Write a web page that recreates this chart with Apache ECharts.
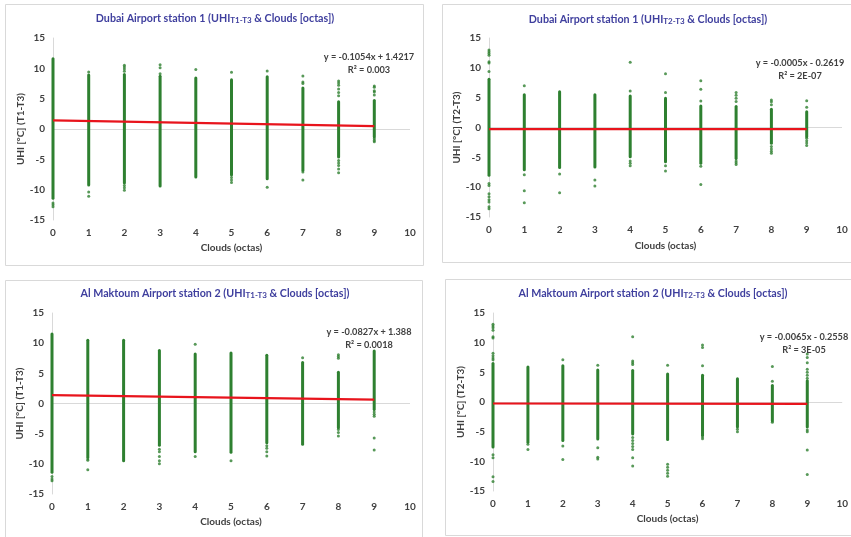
<!DOCTYPE html>
<html><head><meta charset="utf-8">
<script src="https://cdn.jsdelivr.net/npm/echarts@6/dist/echarts.min.js"></script>
<style>html,body{margin:0;padding:0;background:#fff}#c{width:851px;height:537px}</style>
</head><body><div id="c"></div>
<script>
// ---------- DATA ----------
const clouds = [0,1,2,3,4,5,6,7,8,9];
const xTicks = [0,1,2,3,4,5,6,7,8,9,10];
const yTicks = [-15,-10,-5,0,5,10,15];

const titles = [
  ['Dubai Airport station 1 (UHI','T1-T3',' & Clouds [octas])'],
  ['Dubai Airport station 1 (UHI','T2-T3',' & Clouds [octas])'],
  ['Al Maktoum Airport station 2 (UHI','T1-T3',' & Clouds [octas])'],
  ['Al Maktoum Airport station 2 (UHI','T2-T3',' & Clouds [octas])']
];
const yNames = ['UHI [°C] (T1-T3)','UHI [°C] (T2-T3)','UHI [°C] (T1-T3)','UHI [°C] (T2-T3)'];
const xName = 'Clouds (octas)';
const eqTexts = ['y = -0.1054x + 1.4217','y = -0.0005x - 0.2619','y = -0.0827x + 1.388','y = -0.0065x - 0.2558'];
const r2Texts = ['R² = 0.003','R² = 2E-07','R² = 0.0018','R² = 3E-05'];
const slopes = [-0.1054,-0.0005,-0.0827,-0.0065];
const intercepts = [1.4217,-0.2619,1.388,-0.2558];

// dense ranges (low/high of continuous column of points) per cloud value
const p1Low  = [-11.4,-9.25,-8.9,-9.4,-7.9,-7.6,-8.2,-6.8,-4.6,-1.3];
const p1High = [11.6,8.9,9.0,8.7,8.4,8.1,8.6,6.75,4.5,4.7];
const p1Dots = [
  [0,-12.2],[0,-12.5],[0,-12.8],
  [1,9.4],[1,-10.4],[1,-11.1],
  [2,10.5],[2,10.2],[2,9.9],[2,9.5],[2,-9.3],[2,-9.7],[2,-10.1],
  [3,10.6],[3,10.1],[3,9.1],
  [4,9.8],
  [5,9.35],[5,-8.0],[5,-8.4],[5,-8.8],
  [6,9.55],[6,-9.6],
  [7,8.75],[7,7.75],[7,7.5],[7,-7.1],[7,-8.4],
  [8,7.9],[8,7.6],[8,7.2],[8,6.6],[8,6.0],[8,5.5],[8,-5.2],[8,-5.6],[8,-6.0],[8,-6.6],[8,-7.2],
  [9,7.1],[9,6.9],[9,6.3],[9,6.1],[9,5.6],[9,-1.6],[9,-1.9],[9,-2.1]
];

const p2Low  = [-8.0,-7.1,-6.7,-6.6,-4.9,-5.75,-6.0,-5.2,-2.65,-1.55];
const p2High = [8.1,5.5,6.0,5.5,5.3,4.9,3.6,3.5,3.05,2.65];
const p2Dots = [
  [0,13.0],[0,12.7],[0,12.4],[0,12.1],[0,11.0],[0,10.8],[0,9.4],[0,-9.4],[0,-9.7],[0,-11.1],[0,-11.6],[0,-12.1],[0,-12.5],[0,-13.3],[0,-13.6],
  [1,7.0],[1,-7.9],[1,-10.6],[1,-12.6],
  [2,-7.8],[2,-10.95],
  [3,-8.8],[3,-9.8],
  [4,10.95],[4,6.1],[4,-5.6],[4,-6.0],[4,-6.4],
  [5,9.0],[5,5.85],[5,-6.4],[5,-7.3],
  [6,7.85],[6,6.4],[6,4.45],[6,-6.5],[6,-9.55],
  [7,5.85],[7,5.4],[7,4.9],[7,4.35],[7,-5.6],[7,-5.9],[7,-6.2],
  [8,4.6],[8,4.3],[8,3.8],[8,-3.2],[8,-3.6],[8,-4.0],[8,-4.3],
  [9,4.5],[9,3.4],[9,-1.8],[9,-2.2],[9,-2.6],[9,-3.0]
];

const p3Low  = [-11.4,-8.9,-9.5,-6.9,-8.0,-8.1,-6.5,-6.75,-4.0,-1.0];
const p3High = [11.5,10.5,10.5,8.8,8.2,8.35,8.0,6.8,5.2,8.7];
const p3Dots = [
  [0,-12.1],[0,-12.5],[0,-12.8],
  [1,-9.2],[1,-9.4],[1,-11.0],
  [3,-7.6],[3,-8.0],[3,-8.8],[3,-9.5],[3,-10.0],
  [4,9.8],[4,-8.8],
  [5,-9.5],
  [6,-7.0],[6,-7.4],[6,-8.0],[6,-8.7],
  [7,7.6],
  [8,8.1],[8,7.8],[8,7.5],[8,-4.3],[8,-4.8],[8,-5.4],
  [9,-1.4],[9,-1.8],[9,-2.1],[9,-5.7],[9,-7.7]
];

const p4Low  = [-7.6,-6.8,-6.5,-6.25,-5.4,-6.3,-5.6,-4.2,-3.2,-4.2];
const p4High = [6.5,5.9,6.1,5.4,5.3,4.7,4.5,3.9,2.8,3.6];
const p4Dots = [
  [0,13.1],[0,12.8],[0,12.5],[0,12.1],[0,11.0],[0,10.8],[0,8.2],[0,7.8],[0,7.4],[0,7.1],[0,-8.9],[0,-9.4],[0,-12.6],[0,-13.4],
  [1,-7.1],[1,-8.0],
  [2,7.1],[2,-7.4],[2,-9.7],
  [3,6.2],[3,-7.7],[3,-9.3],[3,-9.6],
  [4,11.0],[4,6.9],[4,6.6],[4,6.3],[4,-6.0],[4,-6.5],[4,-7.0],[4,-7.5],[4,-8.0],[4,-9.4],[4,-10.8],
  [5,6.2],[5,-10.5],[5,-11.0],[5,-11.5],[5,-12.0],[5,-12.5],
  [6,9.6],[6,9.2],[6,6.1],[6,-5.9],[6,-6.2],
  [7,-4.6],[7,-5.0],
  [8,6.0],[8,3.5],[8,-3.4],
  [9,8.1],[9,7.5],[9,6.6],[9,5.5],[9,5.0],[9,4.5],[9,4.0],[9,-4.7],[9,-5.0],[9,-8.1],[9,-12.2]
];

const lows = [p1Low,p2Low,p3Low,p4Low];
const highs = [p1High,p2High,p3High,p4High];
const dots = [p1Dots,p2Dots,p3Dots,p4Dots];

// ---------- LAYOUT ----------
const FONT = 'Lato';
const GREEN = '#2e8030';
const grids = [
  {left:53, top:38, width:357, height:182},
  {left:489, top:38, width:353, height:179},
  {left:52, top:313, width:358, height:181},
  {left:493, top:313, width:355, height:178}
];
const cards = [
  {x:5, y:4, w:418, h:261},
  {x:442, y:4, w:415, h:258},
  {x:5, y:280, w:417, h:262},
  {x:445, y:279, w:412, h:256}
];
const titlePos = [[215,19],[648,20],[215,294],[653,294]];
const eqPos = [[369,57],[800,63],[369,332],[804,337]];
const xNameGap = [23,24,23,23];
const yNameGap = [26,25,26,26];

const chart = echarts.init(document.getElementById('c'), null, {renderer:'canvas'});

const graphic = [];
cards.forEach(c => graphic.push({type:'rect', shape:{x:c.x+0.5,y:c.y+0.5,width:c.w,height:c.h}, style:{fill:'#fff', stroke:'#d9d9d9', lineWidth:1}, z:-10, silent:true}));
titlePos.forEach((p,i) => {
  graphic.push({type:'text', x:p[0], y:p[1], z:10, style:{
    text:'{a|'+titles[i][0]+'}{s|'+titles[i][1]+'}{a|'+titles[i][2]+'}',
    align:'center', verticalAlign:'middle',
    rich:{a:{fontFamily:FONT, fontWeight:'bold', fontSize:10.7, fill:'#3f3f9e'},
          s:{fontFamily:FONT, fontWeight:'bold', fontSize:8, fill:'#3f3f9e', padding:[3,0,0,0]}}
  }});
});
eqPos.forEach((p,i) => {
  graphic.push({type:'text', x:p[0], y:p[1], z:10, style:{text:eqTexts[i], align:'center', verticalAlign:'middle', fontFamily:FONT, fontWeight:'bold', fontSize:9.2, fill:'#404040'}});
  graphic.push({type:'text', x:p[0], y:p[1]+13, z:10, style:{text:r2Texts[i], align:'center', verticalAlign:'middle', fontFamily:FONT, fontWeight:'bold', fontSize:9.2, fill:'#404040'}});
});

const xAxis = [], yAxis = [], series = [];
grids.forEach((g,i) => {
  xAxis.push({gridIndex:i, type:'value', min:xTicks[0], max:xTicks[xTicks.length-1], interval:1,
    name:xName, nameLocation:'middle', nameGap:xNameGap[i],
    nameTextStyle:{fontFamily:FONT, fontWeight:'bold', fontSize:10, color:'#404040'},
    axisLine:{show:false}, axisTick:{show:false}, splitLine:{show:false},
    axisLabel:{fontFamily:FONT, fontWeight:'bold', fontSize:10, color:'#404040', margin:8}});
  yAxis.push({gridIndex:i, type:'value', min:yTicks[0], max:yTicks[yTicks.length-1], interval:5,
    name:yNames[i], nameLocation:'middle', nameGap:yNameGap[i],
    nameTextStyle:{fontFamily:FONT, fontWeight:'bold', fontSize:10, color:'#404040'},
    axisLine:{show:true, onZero:false, lineStyle:{color:'#d9d9d9', width:1}}, axisTick:{show:false}, splitLine:{show:false},
    axisLabel:{fontFamily:FONT, fontWeight:'bold', fontSize:10, color:'#404040', margin:8}});
  series.push({type:'custom', xAxisIndex:i, yAxisIndex:i, z:3,
    data: clouds.map((c,k) => [c, lows[i][k], highs[i][k]]),
    encode:{x:0, y:[1,2]},
    renderItem:(params, api) => {
      const x = api.value(0);
      const top = api.coord([x, api.value(2)]);
      const bot = api.coord([x, api.value(1)]);
      return {type:'rect', shape:{x:top[0]-1.5, y:top[1]-1.5, width:3, height:bot[1]-top[1]+3, r:1.5}, style:{fill:GREEN}};
    },
    silent:true});
  series.push({type:'scatter', xAxisIndex:i, yAxisIndex:i, z:3, symbolSize:3, data:dots[i],
    itemStyle:{color:GREEN}, silent:true,
    markLine:{silent:true, symbol:'none', label:{show:false}, lineStyle:{color:'#d9d9d9', width:1, type:'solid'}, data:[{yAxis:0}], z:1}});
  series.push({type:'line', xAxisIndex:i, yAxisIndex:i, z:5, symbol:'none', silent:true,
    data:[[clouds[0], intercepts[i]+slopes[i]*clouds[0]], [clouds[clouds.length-1], intercepts[i]+slopes[i]*clouds[clouds.length-1]]],
    lineStyle:{color:'#e8141c', width:2.2}});
});

chart.setOption({animation:false, backgroundColor:'#fff', grid:grids, xAxis, yAxis, series, graphic});
</script></body></html>
